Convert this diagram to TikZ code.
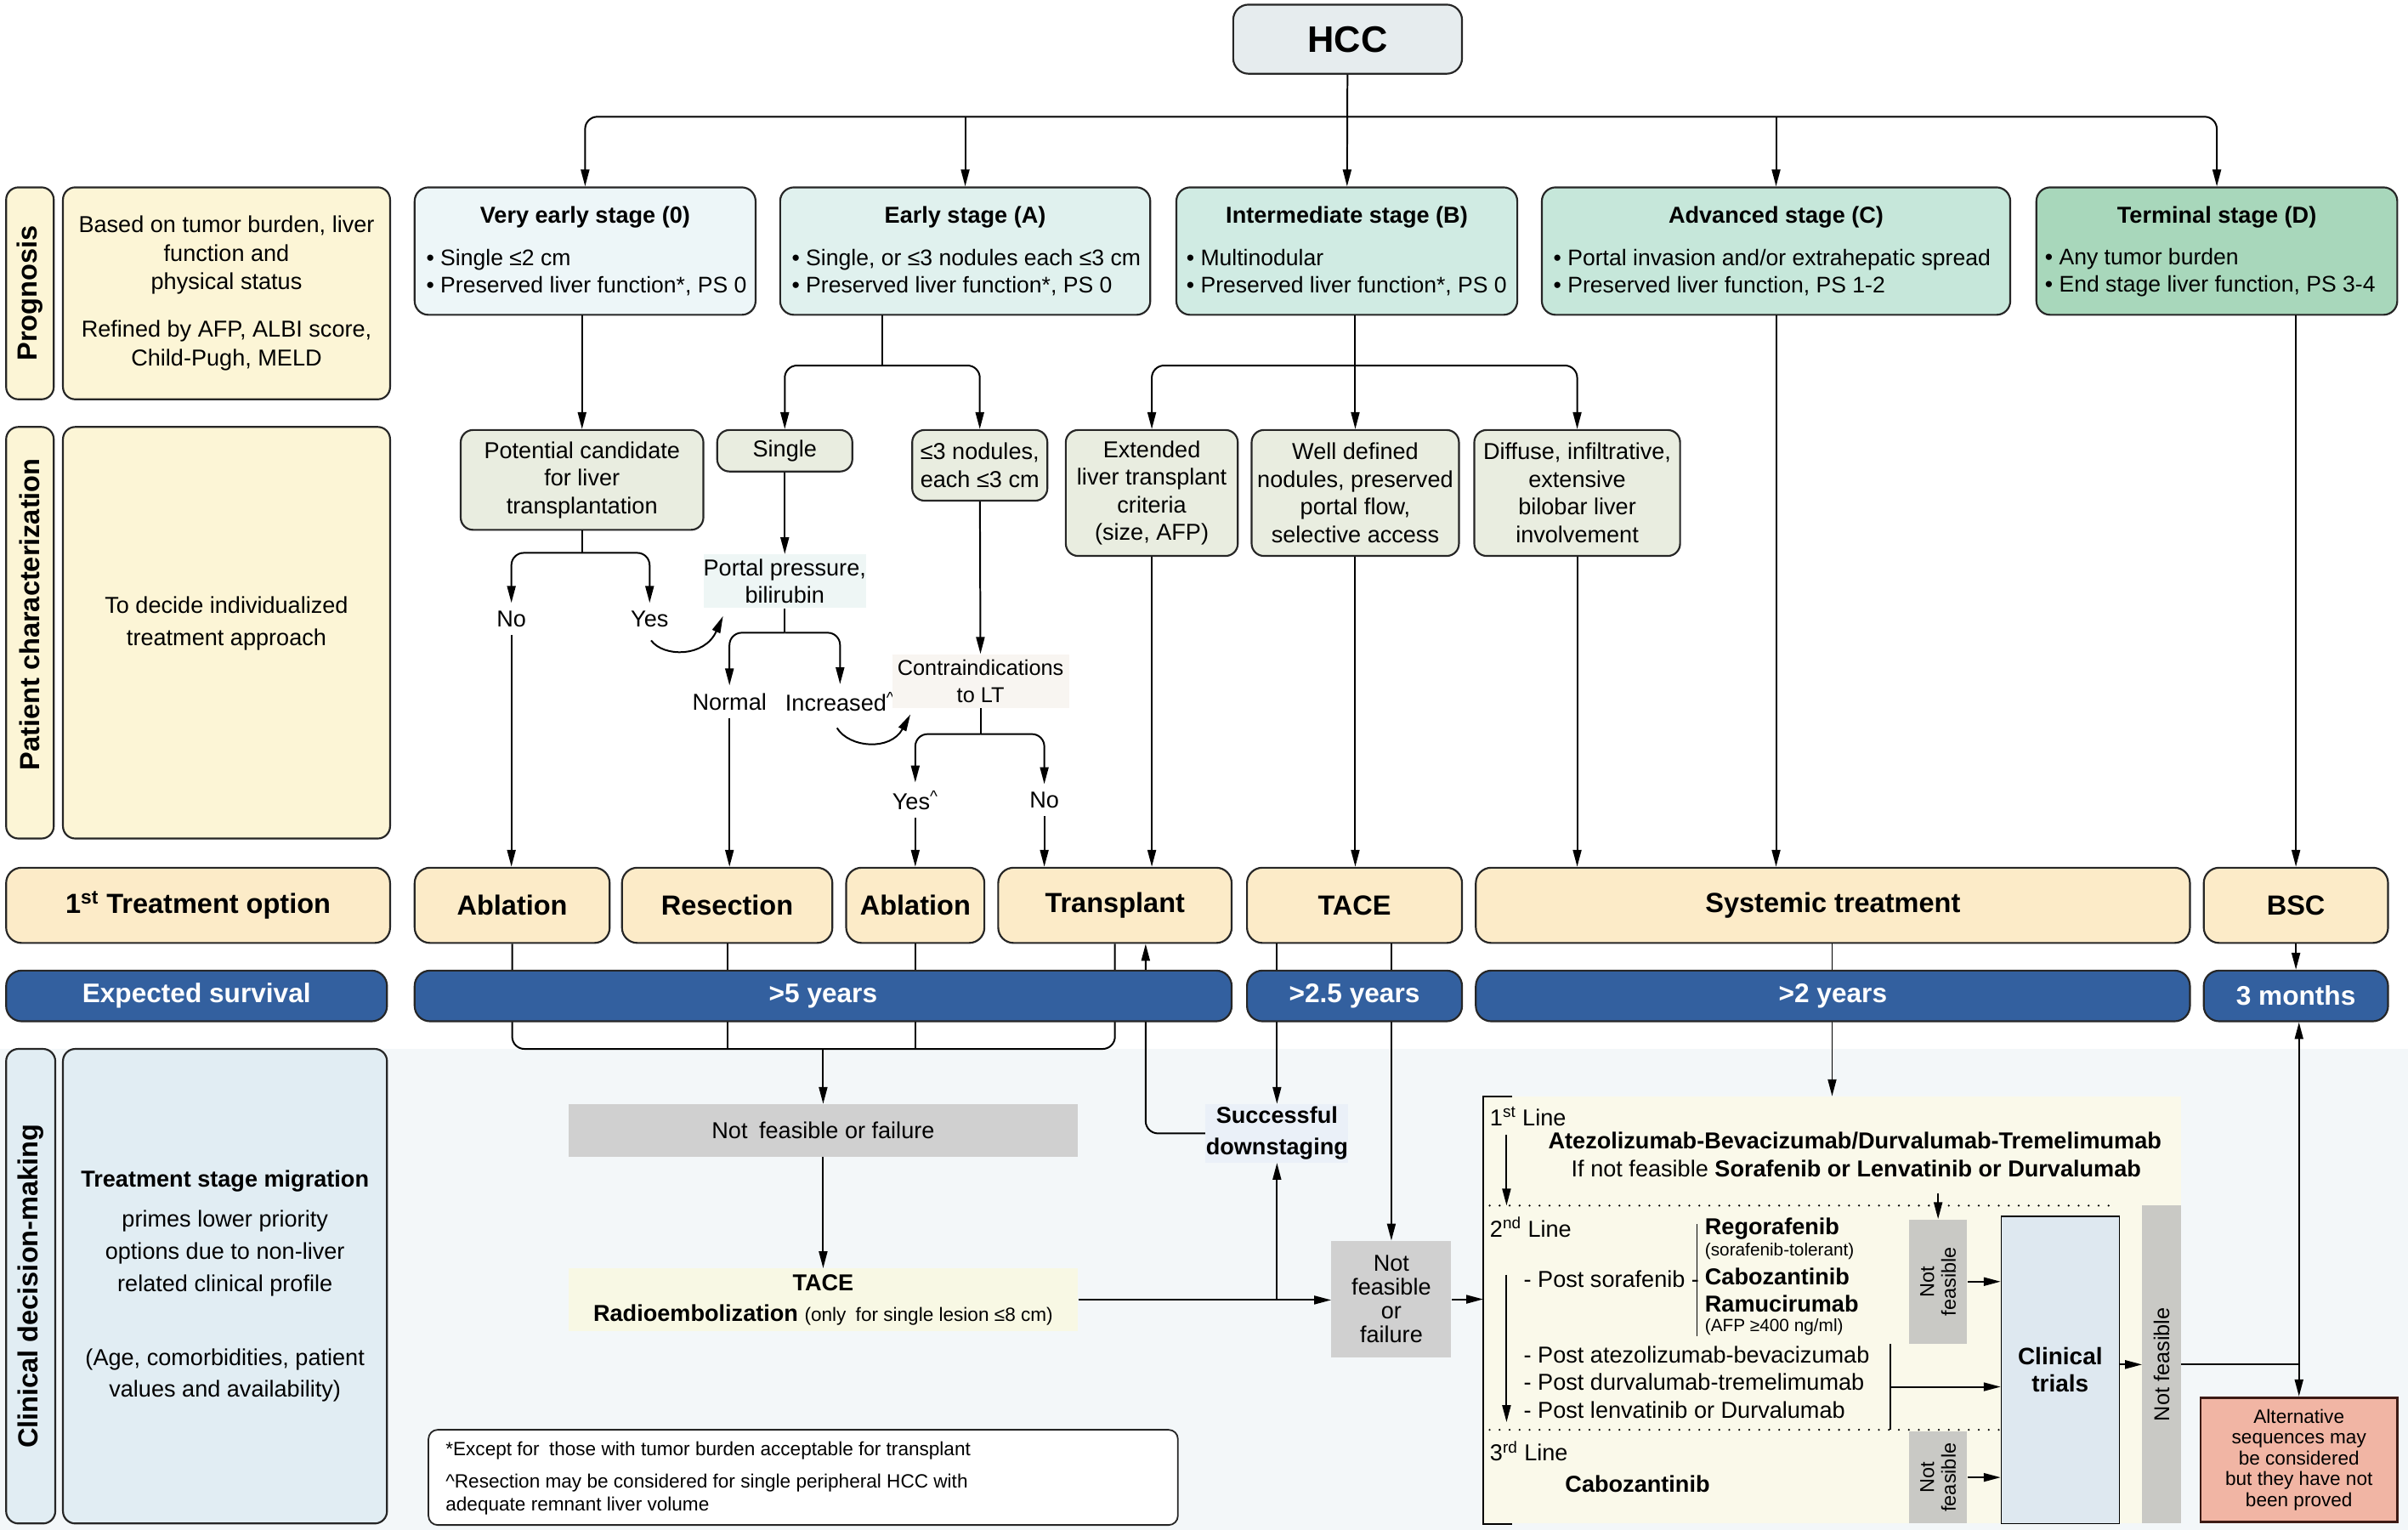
\documentclass[tikz,border=0pt]{standalone}
\usepackage{fontspec}
\setmainfont{Liberation Sans}
\usetikzlibrary{arrows.meta,positioning}

\definecolor{tabY}{HTML}{FCF5D6}
\definecolor{cdmB}{HTML}{E1EDF3}
\definecolor{bgB}{HTML}{F3F7F9}
\definecolor{hccF}{HTML}{E6ECEE}
\definecolor{st0}{HTML}{EDF6F8}
\definecolor{stA}{HTML}{E0F1EE}
\definecolor{stB}{HTML}{D0EBE3}
\definecolor{stC}{HTML}{C6E7DA}
\definecolor{stD}{HTML}{A8D7BB}
\definecolor{midG}{HTML}{E9EDE0}
\definecolor{portalF}{HTML}{EEF6F5}
\definecolor{contraF}{HTML}{F8F5F1}
\definecolor{treatO}{HTML}{FCEBC8}
\definecolor{survB}{HTML}{33609F}
\definecolor{grayF}{HTML}{D0D0D0}
\definecolor{grayS}{HTML}{C9C9C5}
\definecolor{tradF}{HTML}{F8F8E4}
\definecolor{sdF}{HTML}{EAF0F8}
\definecolor{panelF}{HTML}{FAF9EA}
\definecolor{ctF}{HTML}{DEE8F0}
\definecolor{altF}{HTML}{F1B5A4}
\definecolor{altD}{HTML}{3C1A14}

\newcommand{\fsz}[2]{\fontsize{#1pt}{#2pt}\selectfont}

\begin{document}
\begin{tikzpicture}[x=1pt,y=-1pt,
  cell/.style args={#1/#2/#3/#4}{minimum width={#3-#1}, minimum height={#4-#2}, at={({(#1+#3)/2},{(#2+#4)/2})}},
  box/.style={draw=black!85, line width=1.2pt, rounded corners=8pt, inner sep=0pt, align=center},
  tab/.style={box, fill=tabY, font=\fsz{15}{18.5}},
  tabtxt/.style={rotate=90, font=\bfseries\fsz{18}{20}},
  stage/.style={box, rounded corners=9pt},
  stitle/.style={font=\bfseries\fsz{15}{18}, inner sep=0pt},
  sbul/.style={font=\fsz{14.7}{17.6}, align=left, inner sep=0pt, anchor=west},
  mid/.style={box, fill=midG, font=\fsz{15}{18}},
  lbl/.style={font=\fsz{15}{18}, inner xsep=1pt, inner ysep=5pt, align=center},
  flat/.style={inner sep=0pt, align=center, font=\fsz{15}{18}},
  treat/.style={box, rounded corners=10pt, fill=treatO, font=\bfseries\fsz{18}{20}},
  surv/.style={box, rounded corners=10pt, fill=survB, text=white, font=\bfseries\fsz{17.5}{20}},
  txt/.style={font=\fsz{15}{18}, inner sep=0pt, anchor=west, align=left},
  vtxt/.style={rotate=90, font=\fsz{13}{14}, align=center, inner sep=0pt},
  link/.style={line width=1.1pt},
  arr/.style={link, -{Triangle[length=11pt,width=5.5pt]}},
  darr/.style={link, {Triangle[length=11pt,width=5.5pt]}-{Triangle[length=11pt,width=5.5pt]}},
  dots/.style={line width=1.4pt, line cap=round, dash pattern=on 0pt off 6.5pt},
  rc/.style={rounded corners=8pt}
]
\useasboundingbox (0,0) rectangle (1568,996);
\fill[bgB] (0,683) rectangle (1568,996);

% left column
\node[tab, cell=4/122/35/260] (ptab) {};
\node[tabtxt] (ptabt) at (ptab) {Prognosis};
\node[tab, cell=41/122/254/260] (pbox) {Based on tumor burden, liver\\function and\\physical status\\[12.5pt]Refined by AFP, ALBI score,\\Child-Pugh, MELD};
\node[tab, cell=4/278/35/546] (ctab) {};
\node[tabtxt] (ctabt) at ([shift={(0,-12)}]ctab.center) {Patient characterization};
\node[tab, cell=41/278/254/546] (cbox) {};
\node[lbl, font=\fsz{15}{21}] (cboxt) at ([shift={(0,-6)}]cbox.center) {To decide individualized\\treatment approach};
\node[treat, cell=4/565/254/614] (opt) {1\textsuperscript{st} Treatment option};
\node[box, fill=cdmB, cell=4/683/36/992] (dtab) {};
\node[tabtxt] (dtabt) at (dtab) {Clinical decision-making};
\node[box, fill=cdmB, cell=41/683/252/992, font=\fsz{15}{21}] (dbox) {\textbf{Treatment stage migration}\\[5pt]primes lower priority\\options due to non-liver\\related clinical profile\\[27pt](Age, comorbidities, patient\\values and availability)};

% HCC and stages
\node[box, fill=hccF, rounded corners=10pt, font=\bfseries\fsz{24}{26}, cell=803/3/952/48] (hcc) {HCC};
\node[stage, fill=st0, cell=270/122/492/205] (s0) {};
\node[stage, fill=stA, cell=508/122/749/205] (sA) {};
\node[stage, fill=stB, cell=766/122/988/205] (sB) {};
\node[stage, fill=stC, cell=1004/122/1309/205] (sC) {};
\node[stage, fill=stD, cell=1326/122/1561/205] (sD) {};
\node[stitle] (t0) at ([shift={(0,20)}]s0.north) {Very early stage (0)};
\node[stitle] (tA) at ([shift={(0,20)}]sA.north) {Early stage (A)};
\node[stitle] (tB) at ([shift={(0,20)}]sB.north) {Intermediate stage (B)};
\node[stitle] (tC) at ([shift={(0,20)}]sC.north) {Advanced stage (C)};
\node[stitle] (tD) at ([shift={(0,20)}]sD.north) {Terminal stage (D)};
\node[sbul] (b0) at ([shift={(8,56)}]s0.north west) {• Single ≤2 cm\\• Preserved liver function*, PS 0};
\node[sbul] (bA) at ([shift={(8,56)}]sA.north west) {• Single, or ≤3 nodules each ≤3 cm\\• Preserved liver function*, PS 0};
\node[sbul] (bB) at ([shift={(7,56)}]sB.north west) {• Multinodular\\• Preserved liver function*, PS 0};
\node[sbul] (bC) at ([shift={(8,56)}]sC.north west) {• Portal invasion and/or extrahepatic spread\\• Preserved liver function, PS 1-2};
\node[sbul] (bD) at ([shift={(6,56)}]sD.north west) {• Any tumor burden\\• End stage liver function, PS 3-4};

% patient characterization
\node[mid, cell=300/280/458/345] (pc) {Potential candidate\\for liver\\transplantation};
\node[mid, cell=467/280/555/307] (single) {Single};
\node[mid, cell=594/280/682/326] (nod3) {≤3 nodules,\\each ≤3 cm};
\node[mid, cell=694/280/806/362] (ext) {Extended\\liver transplant\\criteria\\(size, AFP)};
\node[mid, cell=815/280/950/362] (wd) {Well defined\\nodules, preserved\\portal flow,\\selective access};
\node[mid, cell=960/280/1094/362] (dif) {Diffuse, infiltrative,\\extensive\\bilobar liver\\involvement};
\node[lbl] (no1) at (333,403) {No};
\node[lbl] (yes1) at (423,403) {Yes};
\node[flat, fill=portalF, cell=458/361/564/396, font=\fsz{15}{17.6}] (portal) {Portal pressure,\\bilirubin};
\node[lbl] (normal) at (475,457) {Normal};
\node[lbl] (incr) at (547,457) {Increased\textsuperscript{\textasciicircum}};
\node[flat, fill=contraF, cell=581/426/696/461, font=\fsz{14}{17.8}] (contra) {Contraindications\\to LT};
\node[lbl] (yes2) at (596,521) {Yes\textsuperscript{\textasciicircum}};
\node[lbl] (no2) at (680,521) {No};

% treatments
\node[treat, cell=270/565/397/614] (abl1) {Ablation};
\node[treat, cell=405/565/542/614] (res) {Resection};
\node[treat, cell=551/565/641/614] (abl2) {Ablation};
\node[treat, cell=650/565/802/614] (trans) {Transplant};
\node[treat, cell=812/565/952/614] (tace) {TACE};
\node[treat, cell=961/565/1426/614] (sys) {Systemic treatment};
\node[treat, cell=1435/565/1555/614] (bsc) {BSC};

% clinical decision-making
\node[flat, fill=grayF, cell=370/719/702/753] (nff) {Not\enspace feasible or failure};
\node[flat, fill=tradF, cell=370/826/702/867, font=\fsz{15}{20}] (trad) {\textbf{TACE}\\\textbf{Radioembolization} {\fsz{12.5}{20}(only\enspace for single lesion ≤8 cm)}};
\node[flat, fill=sdF, cell=785/719/878/757, font=\bfseries\fsz{15}{20.5}] (sd) {Successful\\downstaging};
\node[flat, fill=grayF, cell=867/808/945/884, font=\fsz{15}{15.5}] (nf2) {Not\\feasible\\or\\failure};
\node[flat, fill=panelF, cell=966/714/1420/992] (panel) {};
\node[flat, fill=ctF, draw, line width=0.6pt, cell=1303/792/1380/992, font=\bfseries\fsz{15.5}{18}] (ct) {Clinical\\trials};
\node[flat, fill=grayS, cell=1243/794/1281/875] (nfa) {};
\node[flat, fill=grayS, cell=1243/932/1281/992] (nfb) {};
\node[flat, fill=grayS, cell=1395/785/1420/992] (nfc) {};
\node[vtxt] (nfat) at (nfa) {Not\\feasible};
\node[vtxt] (nfbt) at (nfb) {Not\\feasible};
\node[vtxt, font=\fsz{14}{16}] (nfct) at (nfc) {Not feasible};
\node[box, rounded corners=0pt, fill=altF, draw=altD, line width=1.5pt, cell=1433/910/1561/991, font=\fsz{12.5}{13.6}] (alt) {Alternative\\sequences may\\be considered\\but they have not\\been proved};

% systemic lines
\node[txt] (l1) at (970,727) {1\textsuperscript{st} Line};
\node[txt, font=\bfseries\fsz{15}{18}] (l1a) at (1008,743) {Atezolizumab-Bevacizumab/Durvalumab-Tremelimumab};
\node[txt] (l1b) at (1023,761) {If not feasible \textbf{Sorafenib or Lenvatinib or Durvalumab}};
\node[txt] (l2) at (970,799) {2\textsuperscript{nd} Line};
\node[txt] (l2s) at (992,833) {- Post sorafenib -};
\node[txt, font=\bfseries\fsz{15}{18}] (rego) at (1110,800) {Regorafenib};
\node[txt, font=\fsz{11.5}{14}] (regot) at (1110,815) {(sorafenib-tolerant)};
\node[txt, font=\bfseries\fsz{15}{18}] (cabo) at (1110,831) {Cabozantinib};
\node[txt, font=\bfseries\fsz{15}{18}] (ramu) at (1110,849) {Ramucirumab};
\node[txt, font=\fsz{11.5}{14}] (ramut) at (1110,864) {(AFP ≥400 ng/ml)};
\node[txt] (l2p) at (992,900) {- Post atezolizumab-bevacizumab\\- Post durvalumab-tremelimumab\\- Post lenvatinib or Durvalumab};
\node[txt] (l3) at (970,945) {3\textsuperscript{rd} Line};
\node[txt, font=\bfseries\fsz{15}{18}] (l3c) at (1019,966) {Cabozantinib};

% footnote
\node[box, rounded corners=6pt, fill=white, line width=1pt, cell=279/931/767/993] (foot) {};
\node[txt, font=\fsz{12.5}{14.7}] (foot1) at (290,944.5) {*Except for\enspace those with tumor burden acceptable for transplant};
\node[txt, font=\fsz{12.5}{14.7}] (foot2) at (290,973) {\textasciicircum Resection may be considered for single peripheral HCC with\\adequate remnant liver volume};

% connectors
\coordinate (top) at (877.5,76);
\draw[arr] (hcc) -- (sB);
\draw[arr, rc] (top) -| (s0);
\draw[arr, rc] (top) -| (sD);
\draw[arr] (top -| sA) -- (sA);
\draw[arr] (top -| sC) -- (sC);

\draw[arr] (pc |- s0.south) -- (pc);
\coordinate (jA) at (574.5,238);
\draw[link] (sA.south -| jA) -- (jA);
\draw[arr, rc] (jA) -| (single);
\draw[arr, rc] (jA) -| (nod3);
\coordinate (jB) at (882.5,238);
\draw[arr] (sB.south -| wd) -- (wd);
\draw[arr, rc] (jB) -| (ext);
\draw[arr, rc] (jB) -| (dif);

\coordinate (jP) at (379,360);
\draw[link] (pc) -- (jP);
\draw[arr, rc] (jP) -| (no1);
\draw[arr, rc] (jP) -| (yes1);
\draw[arr] ([shift={(1,14)}]yes1.center) .. controls +(8,11) and +(-12,27) .. ([shift={(13,5)}]portal.south west);
\draw[arr] (single) -- (portal);
\coordinate (jQ) at (511,412);
\draw[link] (portal) -- (jQ);
\draw[arr, rc] (jQ) -| (normal);
\draw[arr, rc] (jQ) -| (incr);
\draw[arr] ([shift={(-2,17)}]incr.center) .. controls +(8,13) and +(-13,24) .. ([shift={(12,4)}]contra.south west);
\draw[arr] (nod3) -- (contra);
\coordinate (jC) at (638.5,478);
\draw[link] (contra) -- (jC);
\draw[arr, rc] (jC) -| (yes2);
\draw[arr, rc] (jC) -| (no2);

\draw[arr] (no1) -- (no1 |- abl1.north);
\draw[arr] (normal) -- (normal |- res.north);
\draw[arr] (yes2) -- (yes2 |- abl2.north);
\draw[arr] (no2) -- (no2 |- trans.north);
\draw[arr] (ext) -- (ext |- trans.north);
\draw[arr] (wd) -- (wd |- tace.north);
\draw[arr] (dif) -- (dif |- sys.north);
\draw[arr] (sC) -- (sC |- sys.north);
\draw[arr] (bsc.north |- sD.south) -- (bsc.north);

% below the treatments
\coordinate (yj) at (0,683);
\draw[link, rc] (abl1) |- (trans.south |- yj) -- (trans);
\draw[link] (res) -- (res |- yj);
\draw[link] (abl2) -- (abl2 |- yj);
\draw[arr] (nff |- yj) -- (nff);
\draw[arr, rc] (sd) -| ([xshift=20pt]trans.south);
\draw[arr] (sd |- tace.south) -- (sd);
\draw[arr] (nf2 |- tace.south) -- (nf2);
\draw[arr] (panel |- sys.south) -- (panel);
\draw[arr] (nff) -- (trad);
\draw[arr] (trad) -- (trad -| nf2.west);
\draw[arr] (sd |- trad) -- (sd);
\draw[arr] (nf2) -- (nf2 -| panel.west);

% systemic panel
\draw[line width=1.2pt] ([xshift=19pt]panel.north west) -- (panel.north west) -- (panel.south west) -- ([xshift=19pt]panel.south west);
\coordinate (d1) at (970,785);
\coordinate (d1e) at (1377,785);
\coordinate (d2) at (970,931);
\draw[dots] (d1) -- (d1e);
\draw[dots] (d2) -- (d2 -| ct.west);
\coordinate (a1) at (981,739);
\coordinate (a2) at (981,830);
\draw[arr] (a1) -- (a1 |- d1);
\draw[arr] (a2) -- ([yshift=5pt]a2 |- d2);
\draw[arr] ([yshift=17pt]nfa.north) -- (nfa.north);
\coordinate (brace) at (1105,797);
\draw[link] (brace) -- ++(0,73);
\coordinate (post) at (1231,903);
\draw[link] (post |- nfa.south) -- (post |- d2);
\draw[arr] (post) -- (post -| ct.west);
\draw[arr] (nfa) -- (nfa -| ct.west);
\draw[arr] (nfb) -- (nfb -| ct.west);
\draw[arr] (nfc -| ct.east) -- (nfc.west);
\draw[link] (nfc.east) -- (nfc.east -| alt.north);

% survival bars
\node[surv, cell=4/632/252/665] (esurv) {Expected survival};
\node[surv, cell=270/632/802/665] (y5) {>5 years};
\node[surv, cell=812/632/952/665] (y25) {>2.5 years};
\node[surv, cell=961/632/1426/665] (y2) {>2 years};
\node[surv, cell=1435/632/1555/665] (m3) {3 months};
\draw[arr] (bsc) -- (m3);
\draw[darr] (alt.north |- m3.south) -- (alt.north);
\end{tikzpicture}
\end{document}
